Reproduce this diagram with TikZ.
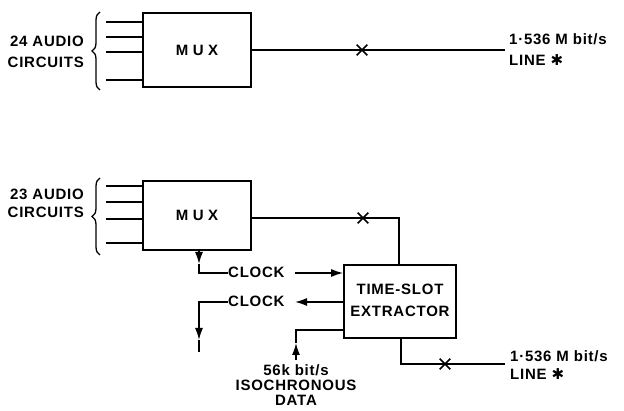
\documentclass[tikz,border=0pt]{standalone}
\usepackage{fontspec}
\setmainfont{Liberation Sans}[LetterSpace=5]
\newfontfamily\symfont{DejaVu Sans}
\usetikzlibrary{arrows.meta,decorations.pathreplacing,shapes.misc}
\tikzset{
  lbl/.style={font=\fontsize{15}{17}\selectfont\bfseries, inner sep=0pt},
  blk/.style={draw, line width=1.6pt, inner sep=0pt, font=\fontsize{15}{17}\selectfont\bfseries\addfontfeature{LetterSpace=30}},
  ln/.style={line width=1.6pt},
  arr/.style={ln, -{Latex[length=12pt,width=8pt]}},
  xm/.style={draw, cross out, line width=1.6pt, minimum size=9pt, inner sep=0pt},
  br/.style={line width=1.3pt, decorate, decoration={brace, amplitude=8pt}}
}
\begin{document}
\begin{tikzpicture}[x=1pt,y=-1pt]
\useasboundingbox (0,0) rectangle (624,411);
% ---------- top ----------
\node[blk, minimum width=108pt, minimum height=74pt] (mux1) at (197,50) {MUX};
\foreach \i/\y in {1/22,2/37,3/52,4/80}{
  \coordinate (ta\i) at (106,\y);
  \draw[ln] (ta\i) -- (ta\i -| mux1.west);
}
\coordinate (tb1) at (100,90);
\coordinate (tb2) at (100,12);
\draw[br] (tb1) -- (tb2);
\node[lbl, anchor=base east] (ta) at (84,47) {24 AUDIO};
\node[lbl, anchor=base east] (tc) at (84,68) {CIRCUITS};
\coordinate (to1) at (505,50);
\draw[ln] (mux1.east) -- (to1);
\node[xm] (tx) at (362,50) {};
\node[lbl, anchor=base west] (tl1) at (509,45) {1·536 M bit/s};
\node[lbl, anchor=base west] (tl2) at (509,66) {LINE {\symfont ✱}};
% ---------- bottom ----------
\node[blk, minimum width=108pt, minimum height=69pt] (mux2) at (197,215.5) {MUX};
\foreach \i/\y in {1/186,2/202,3/219,4/243}{
  \coordinate (ba\i) at (106,\y);
  \draw[ln] (ba\i) -- (ba\i -| mux2.west);
}
\coordinate (bb1) at (100,255);
\coordinate (bb2) at (100,178);
\draw[br] (bb1) -- (bb2);
\node[lbl, anchor=base east] (ba) at (84,200) {23 AUDIO};
\node[lbl, anchor=base east] (bc) at (84,218) {CIRCUITS};
\node[blk, minimum width=112pt, minimum height=73pt] (tse) at (400,301.5) {};
\node[lbl, anchor=base] (tse1) at (400,295) {TIME-SLOT};
\node[lbl, anchor=base] (tse2) at (400,317) {EXTRACTOR};
% mux -> tse
\coordinate (bv) at (399,218);
\draw[ln] (mux2.east |- bv) -- (bv) -- (bv |- tse.north);
\node[xm] (bx1) at (363,218) {};
% tse -> line
\coordinate (bo0) at (401,364);
\coordinate (bo1) at (505,364);
\draw[ln] (bo0 |- tse.south) -- (bo0) -- (bo1);
\node[xm] (bx2) at (445,364) {};
\node[lbl, anchor=base west] (bl1) at (510,362) {1·536 M bit/s};
\node[lbl, anchor=base west] (bl2) at (510,380) {LINE {\symfont ✱}};
% clock from mux
\node[lbl, anchor=base west] (clk1) at (228,278) {CLOCK};
\node[lbl, anchor=base west] (clk2) at (228,307) {CLOCK};
\coordinate (k1) at (199,264);
\draw[arr] (k1 |- mux2.south) -- (k1);
\draw[ln] (k1) -- (k1 |- clk1.west) -- (clk1.west);
\coordinate (k2) at (295,273);
\draw[arr] (k2) -- (k2 -| tse.west);
% clock out
\coordinate (k3) at (295,302);
\draw[arr] (k3 -| tse.west) -- (k3);
\coordinate (k4) at (199,340);
\coordinate (k5) at (199,352);
\draw[arr] (clk2.west) -- (k4 |- clk2.west) -- (k4);
\draw[ln] (k4) -- (k5);
% data in
\coordinate (d0) at (296,330);
\coordinate (d1) at (296,343);
\coordinate (d2) at (296,360);
\draw[arr] (d2) -- (d1);
\draw[ln] (d1) -- (d0) -- (d0 -| tse.west);
\node[lbl, anchor=base] (dt1) at (296,376) {56k bit/s};
\node[lbl, anchor=base] (dt2) at (296,391) {ISOCHRONOUS};
\node[lbl, anchor=base] (dt3) at (296,406) {DATA};
\end{tikzpicture}
\end{document}
